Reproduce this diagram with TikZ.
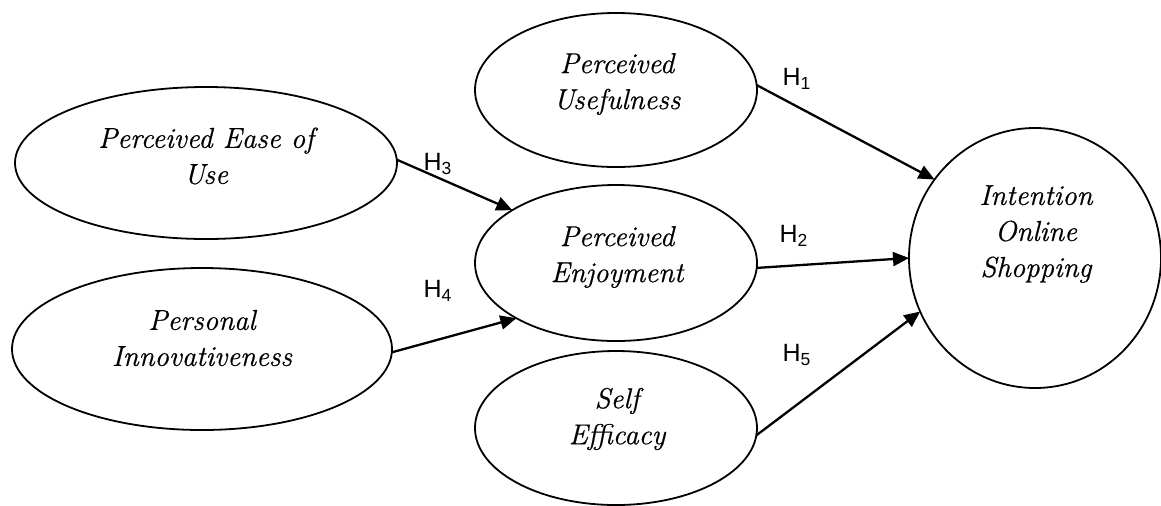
\documentclass[tikz,border=0pt]{standalone}
\usepackage{fontspec}
\setmainfont{Latin Modern Roman}[ItalicFeatures={FakeBold=0.6}]
\newfontfamily\hfont{Liberation Sans}
\usetikzlibrary{shapes.geometric,arrows.meta}
\begin{document}
\begin{tikzpicture}[x=0.5pt,y=-0.5pt,
  cons/.style={draw,ellipse,line width=0.9pt,inner sep=0pt,outer sep=0pt},
  lbl/.style={font=\fontsize{14.4}{18}\selectfont\itshape,align=center,inner sep=0pt},
  hyp/.style={font=\hfont\fontsize{12.5}{14}\selectfont,inner sep=0pt},
  arr/.style={line width=1.15pt,-{Triangle[length=8pt,width=7pt]}}]
\useasboundingbox (0,0) rectangle (1161,505);
% constructs
\node[cons,minimum width=141pt,minimum height=77pt] (PU) at (616,90) {};
\node[cons,minimum width=191pt,minimum height=76pt] (PEU) at (206,163) {};
\node[cons,minimum width=141pt,minimum height=78pt] (PE) at (616,263) {};
\node[cons,minimum width=190pt,minimum height=81pt] (PI) at (202,349) {};
\node[cons,minimum width=141pt,minimum height=77pt] (SE) at (616,428) {};
\node[cons,minimum width=126pt,minimum height=130pt] (IOS) at (1035,258) {};
% texts
\node[lbl] (PUt) at (617,84) {Perceived\\Usefulness};
\node[lbl] (PEUt) at (206,156) {Perceived Ease of\\Use};
\node[lbl] (PEt) at (617,257) {Perceived\\Enjoyment};
\node[lbl] (PIt) at (202,338) {Personal\\Innovativeness};
\node[lbl] (SEt) at (617,419) {Self\\Efficacy};
\node[lbl] (IOSt) at (1036,234) {Intention\\Online\\Shopping};
% hypotheses labels
\node[hyp] (H1) at (797,79) {H\textsubscript{1}};
\node[hyp] (H2) at (794,236) {H\textsubscript{2}};
\node[hyp] (H3) at (438,164) {H\textsubscript{3}};
\node[hyp] (H4) at (438,291) {H\textsubscript{4}};
\node[hyp] (H5) at (797,355) {H\textsubscript{5}};
% arrows
\draw[arr] (PU.2) -- (IOS.142.8);
\draw[arr] (PE.-2) -- (IOS.west);
\draw[arr] (SE.-3) -- (IOS.205.2);
\draw[arr] (PEU.1) -- (PE.153.9);
\draw[arr] (PI.-1) -- (PE.209.1);
\end{tikzpicture}
\end{document}
